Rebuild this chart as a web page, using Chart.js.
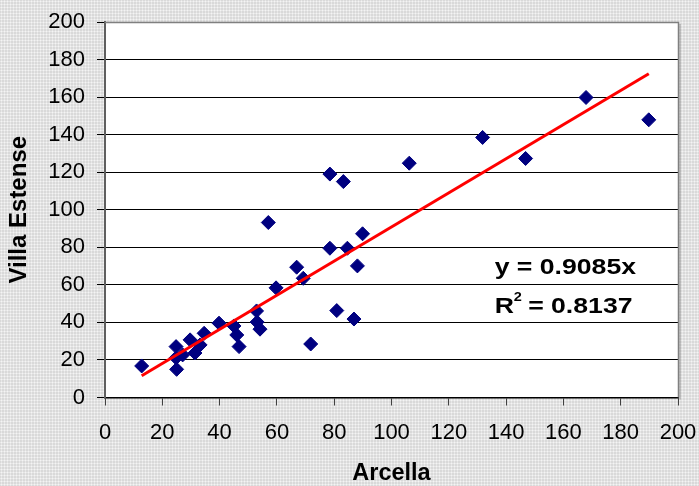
<!DOCTYPE html>
<html>
<head>
<meta charset="utf-8">
<script src="https://cdn.jsdelivr.net/npm/chart.js@4.4.1/dist/chart.umd.min.js"></script>
<style>
  html, body { margin: 0; padding: 0; }
  body {
    width: 699px; height: 486px; overflow: hidden;
    background-color: #d9d9d9;
    background-image: radial-gradient(#f4f4f4 0.9px, transparent 1.1px);
    background-size: 3px 3px;
  }
  #wrap { position: relative; width: 699px; height: 486px; }
</style>
</head>
<body>
<div id="wrap"><canvas id="c" width="699" height="486"></canvas></div>
<script>
// ---- data ----
const arcella = [12.8, 24.8, 24.8, 25.0, 27.1, 29.7, 31.4, 33.2, 34.6, 39.8, 45.0, 46.0, 46.8, 52.9, 53.1, 54.1, 57.0, 59.7, 66.9, 69.2, 71.8, 78.5, 78.5, 80.9, 83.2, 84.6, 86.9, 88.1, 89.9, 106.2, 131.8, 146.8, 167.9, 189.8];
const villaEstense = [16.8, 27.1, 21.1, 15.0, 22.7, 30.7, 23.7, 28.0, 34.2, 39.6, 38.1, 33.3, 27.1, 46.1, 40.2, 36.4, 93.2, 58.4, 69.4, 63.5, 28.5, 119.0, 79.5, 46.3, 115.0, 79.5, 41.8, 70.1, 87.2, 124.8, 138.5, 127.3, 159.8, 147.9];
const trendX = [12.8, 189.8];
const trendY = [11.6, 172.4];
const xTicks = [0, 20, 40, 60, 80, 100, 120, 140, 160, 180, 200];
const yTicks = [0, 20, 40, 60, 80, 100, 120, 140, 160, 180, 200];
const xTitle = 'Arcella';
const yTitle = 'Villa Estense';
const eqLine1 = 'y = 0.9085x';
const eqLine2a = 'R';
const eqSup = '2';
const eqLine2b = ' = 0.8137';

const points = arcella.map((x, i) => ({ x: x, y: villaEstense[i] }));
const trend = trendX.map((x, i) => ({ x: x, y: trendY[i] }));

const FONT = '"Liberation Sans", Arial, sans-serif';

const plotBg = {
  id: 'plotBg',
  beforeDraw(chart) {
    const { ctx, chartArea: a } = chart;
    ctx.save();
    ctx.fillStyle = '#ffffff';
    ctx.fillRect(a.left, a.top, a.right - a.left, a.bottom - a.top);
    ctx.fillStyle = 'rgba(120,120,120,0.35)';
    ctx.fillRect(a.right + 1, a.top + 2, 2, a.bottom - a.top);
    ctx.restore();
  },
  afterDraw(chart) {
    const { ctx, chartArea: a } = chart;
    ctx.save();
    ctx.strokeStyle = '#808080';
    ctx.lineWidth = 1.5;
    ctx.beginPath();
    ctx.moveTo(a.left, a.top + 0.5);
    ctx.lineTo(a.right + 0.5, a.top + 0.5);
    ctx.lineTo(a.right + 0.5, a.bottom);
    ctx.stroke();
    ctx.restore();
  }
};

const eqPlugin = {
  id: 'eqPlugin',
  afterDatasetsDraw(chart) {
    const { ctx, scales } = chart;
    const x0 = scales.x.getPixelForValue(136);
    const y1 = scales.y.getPixelForValue(69);
    const y2 = scales.y.getPixelForValue(48);
    const sx = 1.21;
    ctx.save();
    ctx.fillStyle = '#000';
    ctx.textBaseline = 'middle';
    ctx.textAlign = 'left';
    ctx.translate(x0, 0);
    ctx.scale(sx, 1);
    ctx.font = 'bold 22px ' + FONT;
    ctx.fillText(eqLine1, 0, y1);
    ctx.fillText(eqLine2a, 0, y2);
    const w = ctx.measureText(eqLine2a).width;
    ctx.font = 'bold 12px ' + FONT;
    ctx.fillText(eqSup, w, y2 - 10);
    const w2 = ctx.measureText(eqSup).width;
    ctx.font = 'bold 22px ' + FONT;
    ctx.fillText(eqLine2b, w + w2 - 1, y2);
    ctx.restore();
  }
};

new Chart(document.getElementById('c'), {
  data: {
    datasets: [
      {
        type: 'scatter',
        data: points,
        pointStyle: 'rectRot',
        pointRadius: 7,
        pointHoverRadius: 7,
        backgroundColor: '#000080',
        borderColor: '#000080',
        borderWidth: 1,
        order: 2
      },
      {
        type: 'line',
        data: trend,
        borderColor: '#ff0000',
        borderWidth: 3,
        pointRadius: 0,
        fill: false,
        order: 1
      }
    ]
  },
  options: {
    responsive: false,
    animation: false,
    devicePixelRatio: 1,
    layout: { padding: { top: 22, right: 21, left: 0, bottom: 0 } },
    plugins: { legend: { display: false }, tooltip: { enabled: false } },
    scales: {
      x: {
        type: 'linear',
        min: 0, max: 200,
        afterBuildTicks(s) { s.ticks = xTicks.map(v => ({ value: v })); },
        afterFit(s) { s.height = 88.5; s.paddingLeft = 0; s.paddingRight = 0; },
        ticks: { color: '#000', font: { family: FONT, size: 22 }, padding: 14, maxRotation: 0 },
        grid: { drawOnChartArea: false, drawTicks: true, tickLength: 8, color: '#404040', lineWidth: 1 },
        border: { display: true, color: '#000', width: 1.5 },
        title: { display: true, text: xTitle, color: '#000', font: { family: FONT, size: 23.5, weight: 'bold', lineHeight: 1.05 }, padding: { top: 0, bottom: 0 } }
      },
      y: {
        type: 'linear',
        min: 0, max: 200,
        afterBuildTicks(s) { s.ticks = yTicks.map(v => ({ value: v })); },
        afterFit(s) { s.width = 105; s.paddingTop = 0; s.paddingBottom = 0; },
        ticks: { color: '#000', font: { family: FONT, size: 22 }, padding: 12 },
        grid: { drawOnChartArea: true, drawTicks: true, tickLength: 8, color: '#000', lineWidth: 1 },
        border: { display: true, color: '#606060', width: 2 },
        title: { display: true, text: yTitle, color: '#000', font: { family: FONT, size: 24, weight: 'bold' }, padding: { top: 5, bottom: 0 } }
      }
    }
  },
  plugins: [plotBg, eqPlugin]
});
</script>
</body>
</html>
